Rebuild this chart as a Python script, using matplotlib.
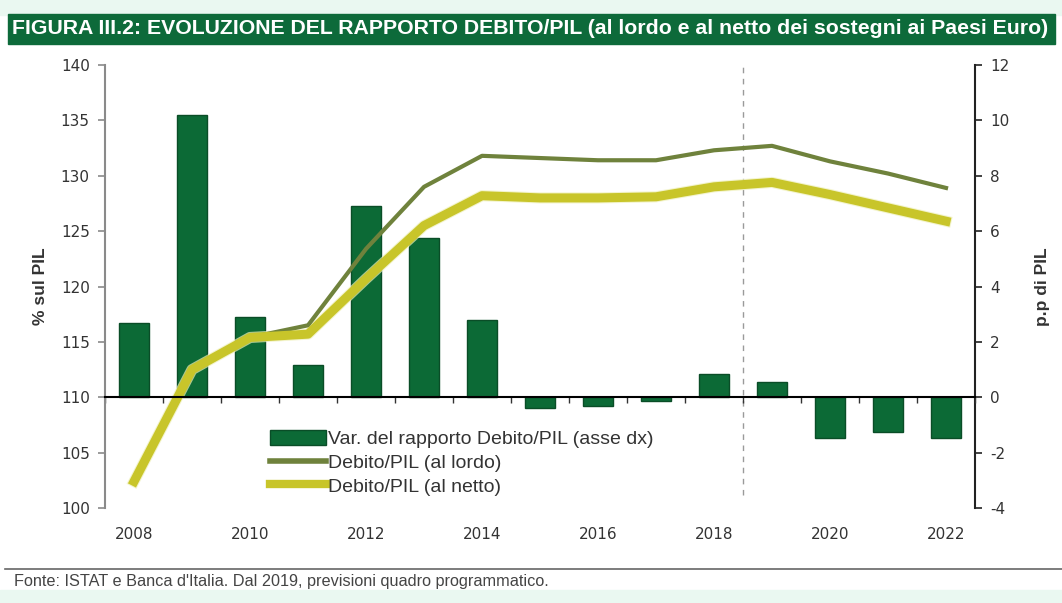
import matplotlib.pyplot as plt
from matplotlib import font_manager
from matplotlib.patches import Rectangle, Patch
from matplotlib.lines import Line2D

plt.rcParams['axes.unicode_minus'] = False

installed = {f.name for f in font_manager.fontManager.ttflist}
narrow = 'Liberation Sans Narrow' if 'Liberation Sans Narrow' in installed else 'Liberation Sans'

# dati
years = list(range(2008, 2023))
var_pp = [2.7, 10.2, 2.9, 1.15, 6.9, 5.75, 2.8, -0.4, -0.3, -0.15, 0.85, 0.55, -1.48, -1.25, -1.48]
lordo = [102.4, 112.5, 115.4, 116.5, 123.4, 129.0, 131.8, 131.6, 131.4, 131.4, 132.3, 132.7, 131.3, 130.2, 128.9]
netto = [102.4, 112.5, 115.4, 115.7, 120.7, 125.5, 128.2, 128.0, 128.0, 128.1, 129.0, 129.4, 128.3, 127.1, 125.9]
year_labels = ['2008', '2010', '2012', '2014', '2016', '2018', '2020', '2022']
title = 'FIGURA III.2: EVOLUZIONE DEL RAPPORTO DEBITO/PIL (al lordo e al netto dei sostegni ai Paesi Euro)'
source = "Fonte: ISTAT e Banca d'Italia. Dal 2019, previsioni quadro programmatico."

bar_col = '#0c6a36'
lordo_col = '#6f823c'
netto_col = '#c8c52a'

fig = plt.figure(figsize=(10.62, 6.03), dpi=100)
fig.patch.set_facecolor('white')

# fasce chiare sopra e sotto
fig.patches.append(Rectangle((0, 0.975), 1, 0.025, transform=fig.transFigure, color='#eaf8f1', zorder=0))
fig.patches.append(Rectangle((0, 0), 1, 0.022, transform=fig.transFigure, color='#eaf8f1', zorder=0))
# barra del titolo
fig.patches.append(Rectangle((0.0075, 0.927), 0.986, 0.050, transform=fig.transFigure,
                             color='#0d6a3a', zorder=1))
t = fig.text(0.011, 0.952, title, color='white', fontweight='bold', family=narrow,
             fontsize=12, va='center', ha='left', zorder=2)
fig.canvas.draw()
w = t.get_window_extent().width
t.set_fontsize(12 * 1036 / w)

ax = fig.add_axes([0.0989, 0.1575, 0.8192, 0.7347])
ax2 = ax.twinx()
ax.set_zorder(ax2.get_zorder() + 1)
ax.patch.set_visible(False)

# barre sull'asse destro
ax2.bar(years, var_pp, width=0.52, color=bar_col, edgecolor='#0a4d27', linewidth=1.0, zorder=2)
ax2.set_ylim(-4, 12)
ax2.set_yticks(range(-4, 13, 2))

# linee sull'asse sinistro
ax.plot(years, netto, color='#eef0b8', linewidth=8, alpha=0.7, zorder=3)
ax.plot(years, lordo, color=lordo_col, linewidth=3, zorder=4)
ax.plot(years, netto, color=netto_col, linewidth=6.5, zorder=5)
ax.axvline(2018.5, color='#9a9a9a', linestyle=(0, (4, 4)), linewidth=1, ymin=0.03, ymax=1, zorder=1)

ax.set_xlim(2007.5, 2022.5)
ax.set_ylim(100, 140)
ax.set_yticks(range(100, 141, 5))

# asse orizzontale sullo zero
ax.spines['bottom'].set_position(('data', 110))
ax.spines['bottom'].set_color('black')
ax.spines['bottom'].set_linewidth(1.5)
ax.spines['bottom'].set_zorder(6)
ax.set_xticks([y + 0.5 for y in range(2007, 2023)])
ax.tick_params(axis='x', direction='out', length=4, width=1, labelbottom=False, color='#333333')

for a in (ax, ax2):
    a.spines['top'].set_visible(False)
ax.spines['right'].set_visible(False)
ax2.spines['bottom'].set_visible(False)
ax2.spines['left'].set_visible(False)
ax.spines['left'].set_color('#8a8a8a')
ax.spines['left'].set_linewidth(1.5)
ax2.spines['right'].set_color('#222222')
ax2.spines['right'].set_linewidth(1.5)

ax.tick_params(axis='y', length=5, width=1.2, color='#8a8a8a', labelsize=11, labelcolor='#333333', pad=6)
ax2.tick_params(axis='y', length=5, width=1.2, color='#222222', labelsize=11, labelcolor='#333333', pad=6)

secax = ax.secondary_xaxis(0)
secax.set_xticks([int(s) for s in year_labels], labels=year_labels)
secax.tick_params(length=0, pad=14, labelsize=11, labelcolor='#333333')
secax.spines['bottom'].set_visible(False)

ax.set_ylabel('% sul PIL', family='Liberation Sans', fontweight='bold', fontsize=12.5,
              color='#333333', labelpad=9)
ax2.set_ylabel('p.p di PIL', family='Liberation Sans', fontweight='bold', fontsize=12.5,
               color='#333333', labelpad=18)

handles = [Patch(facecolor=bar_col, edgecolor='#0a4d27'),
           Line2D([], [], color=lordo_col, linewidth=4),
           Line2D([], [], color=netto_col, linewidth=6)]
labels = ['Var. del rapporto Debito/PIL (asse dx)', 'Debito/PIL (al lordo)', 'Debito/PIL (al netto)']
ax.legend(handles, labels, loc='upper left', bbox_to_anchor=(0.179, 0.198), frameon=False,
          prop={'family': 'Liberation Sans', 'size': 14}, handlelength=2.85, handleheight=0.8,
          handletextpad=0.12, labelspacing=0.28, borderpad=0, labelcolor='#333333')

# fonte
fig.add_artist(Line2D([0.005, 1.0], [0.057, 0.057], transform=fig.transFigure,
                      color='#666666', linewidth=1.2))
s = fig.text(0.013, 0.035, source, family=narrow, fontsize=10, color='#444444', va='center')
fig.canvas.draw()
s.set_fontsize(10 * 535 / s.get_window_extent().width)

fig.savefig('out.png', dpi=100)
